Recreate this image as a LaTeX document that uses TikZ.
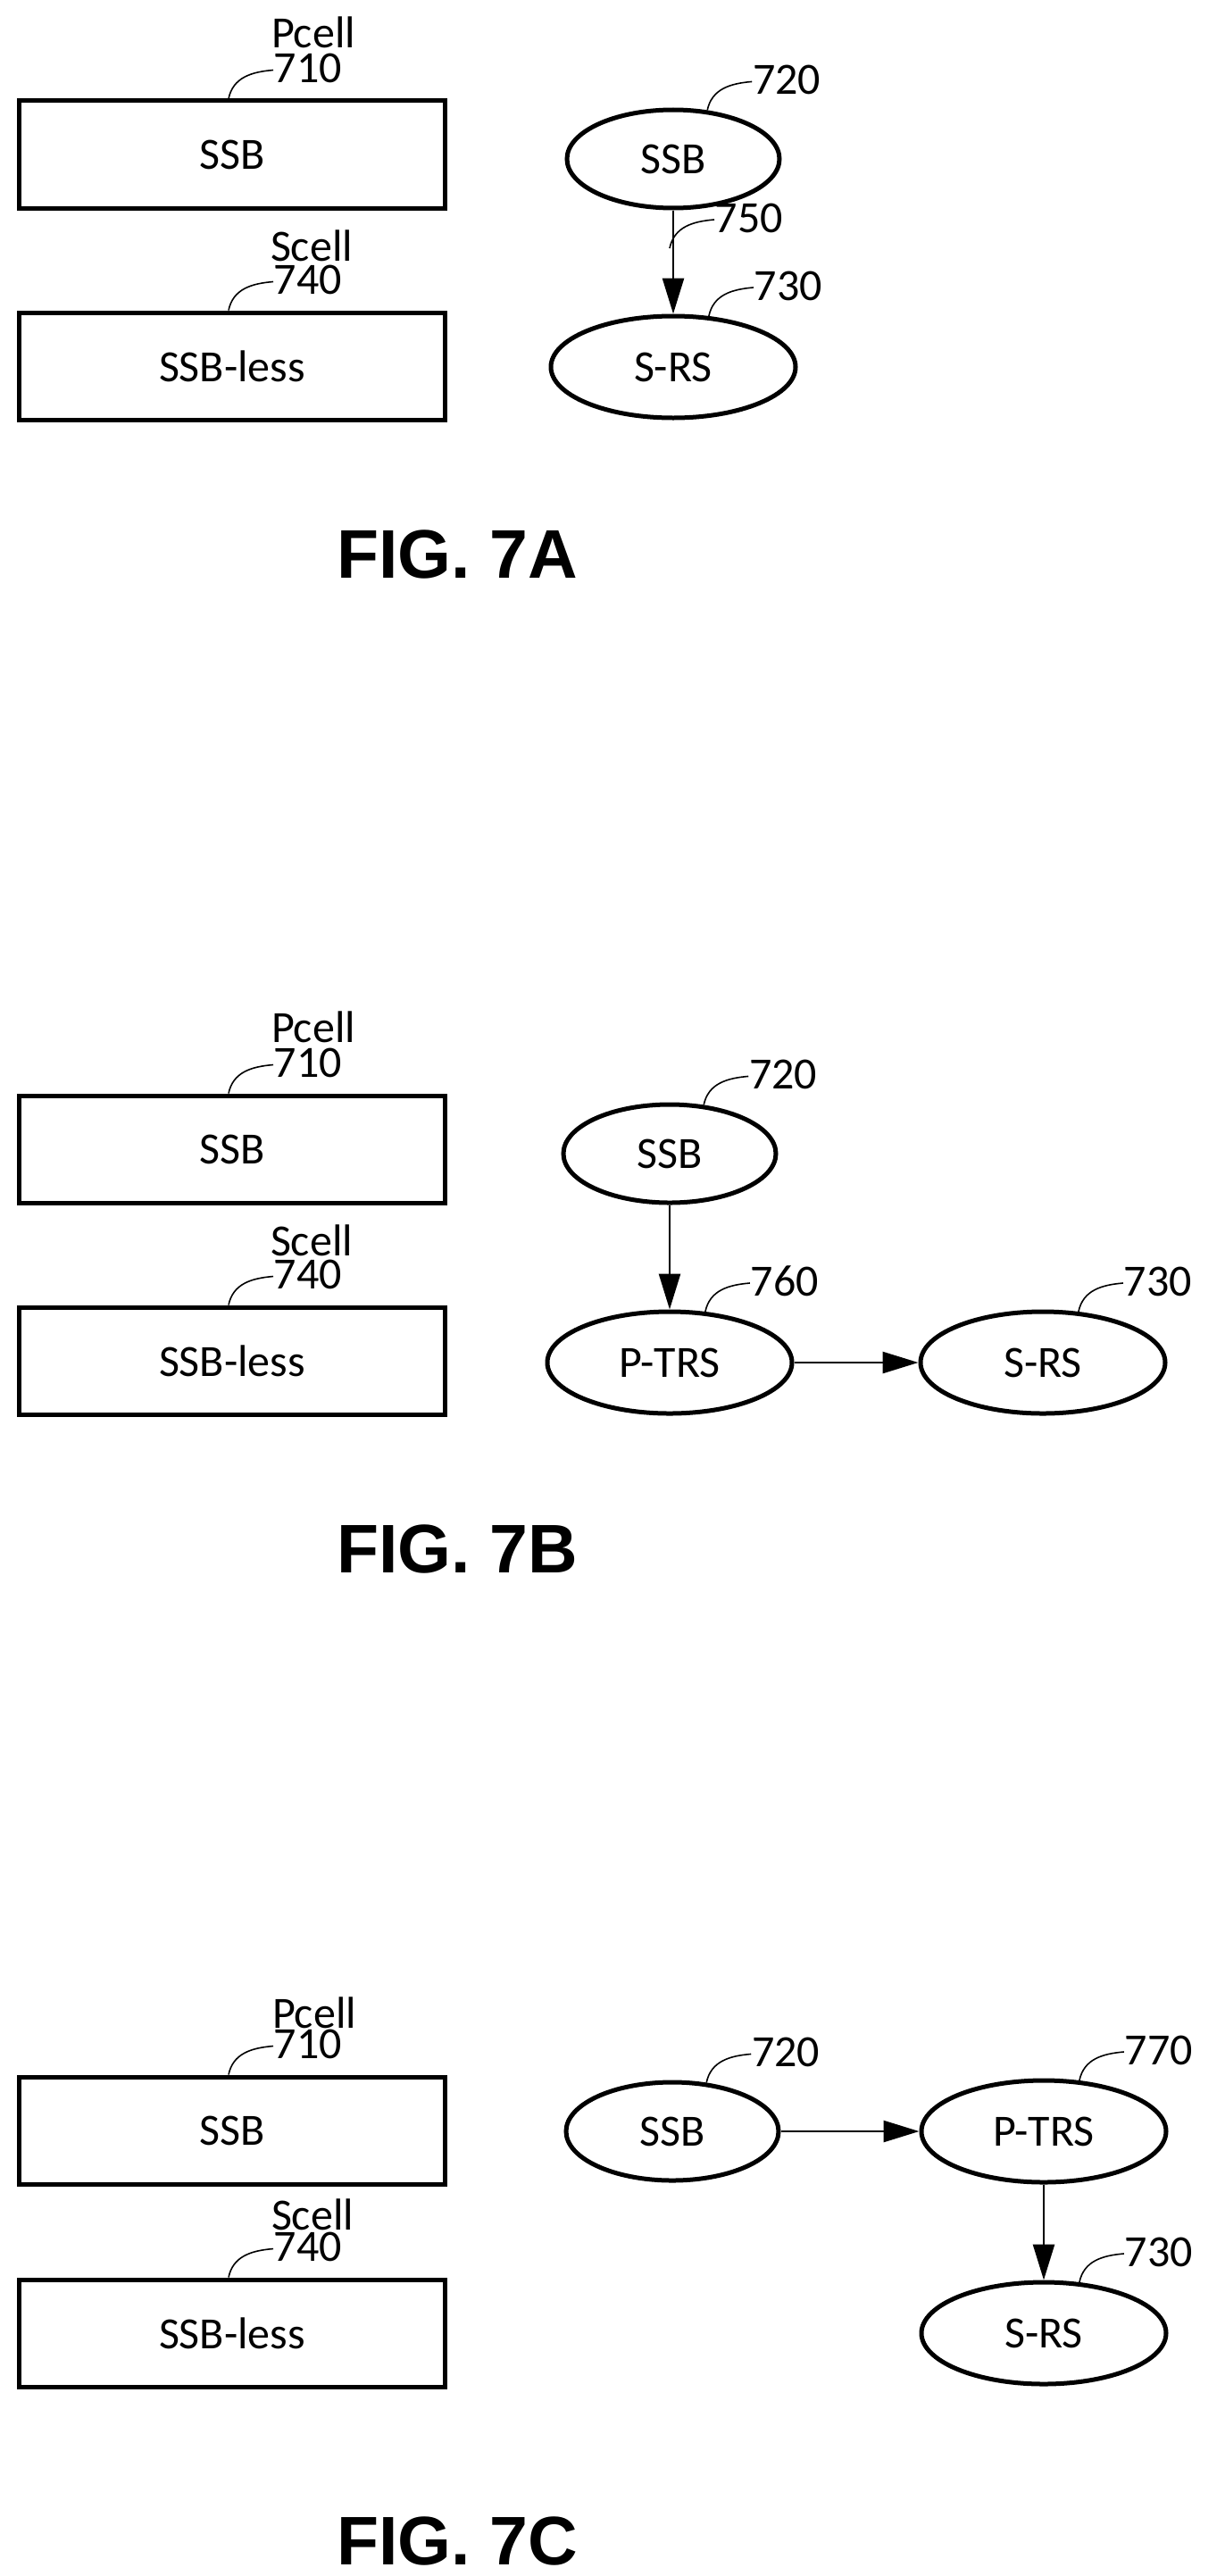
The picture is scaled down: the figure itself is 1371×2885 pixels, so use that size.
\documentclass[tikz,border=0pt]{standalone}
\usepackage{fontspec}
\setmainfont{Carlito}
\newfontfamily\figfont{Liberation Sans}
\usetikzlibrary{arrows.meta,shapes.geometric,positioning,calc}
\newcommand{\callout}[2]{\draw[leader] (#1) .. controls +(5,-24) and +(-24,2) .. ++(50,-32) node[anchor=west,inner sep=0pt,yshift=1pt] {#2};}

\begin{document}
\begin{tikzpicture}[
  x=0.5pt, y=-0.5pt,
  every node/.style={font=\fontsize{25}{28}\selectfont},
  cell/.style = {draw,line width=2.5pt,minimum width=238.5pt,minimum height=60pt,inner sep=0pt},
  rs/.style = {draw,ellipse,line width=2.5pt,minimum width=119pt,minimum height=55pt,inner sep=0pt},
  rsw/.style = {draw,ellipse,line width=2.5pt,minimum width=137pt,minimum height=57pt,inner sep=0pt},
  tag/.style = {inner sep=0pt},
  leader/.style = {line width=0.8pt},
  flow/.style = {line width=1.3pt,-{Triangle[length=20pt,width=12pt]}},
  fig/.style = {font=\figfont\bfseries\fontsize{38.5}{44}\selectfont}
  ]
	\useasboundingbox (0,0) rectangle (1371,2885);

	% FIG. 7A
	\node[cell] (a710) at (260,173) {SSB};
	\node[cell] (a740) at (260,410) {SSB-less};
	\node[tag] (apc) at (351,36) {Pcell};
	\node[tag] (asc) at (349,275) {Scell};
	\node[rs] (a720) at (754,178) {SSB};
	\node[rsw] (a730) at (754,411) {S-RS};
	\draw[flow] (a720) -- (a730);
	\callout{$(a710.north)+(-4,0)$}{710}
	\callout{$(a740.north)+(-4,0)$}{740}
	\callout{a720.55}{720}
	\callout{a730.55}{730}
	\coordinate (a750) at (750,278);
	\callout{a750}{750}
	\node[fig] (fa) at (512,621) {FIG. 7A};

	% FIG. 7B
	\node[cell] (b710) at (260,1287) {SSB};
	\node[cell] (b740) at (260,1524) {SSB-less};
	\node[tag] (bpc) at (351,1150) {Pcell};
	\node[tag] (bsc) at (349,1389) {Scell};
	\node[rs] (b720) at (750,1292) {SSB};
	\node[rsw] (b760) at (750,1526) {P-TRS};
	\node[rsw] (b730) at (1168,1526) {S-RS};
	\draw[flow] (b720) -- (b760);
	\draw[flow] (b760) -- (b730);
	\callout{$(b710.north)+(-4,0)$}{710}
	\callout{$(b740.north)+(-4,0)$}{740}
	\callout{b720.55}{720}
	\callout{b760.55}{760}
	\callout{b730.55}{730}
	\node[fig] (fb) at (512,1735) {FIG. 7B};

	% FIG. 7C
	\node[cell] (c710) at (260,2386) {SSB};
	\node[cell] (c740) at (260,2613) {SSB-less};
	\node[tag] (cpc) at (352,2254) {Pcell};
	\node[tag] (csc) at (350,2480) {Scell};
	\node[rs] (c720) at (753,2387) {SSB};
	\node[rsw] (c770) at (1169,2387) {P-TRS};
	\node[rsw] (c730) at (1169,2613) {S-RS};
	\draw[flow] (c720) -- (c770);
	\draw[flow] (c770) -- (c730);
	\callout{$(c710.north)+(-4,0)$}{710}
	\callout{$(c740.north)+(-4,0)$}{740}
	\callout{c720.55}{720}
	\callout{c770.55}{770}
	\callout{c730.55}{730}
	\node[fig] (fc) at (512,2846) {FIG. 7C};
\end{tikzpicture}
\end{document}
